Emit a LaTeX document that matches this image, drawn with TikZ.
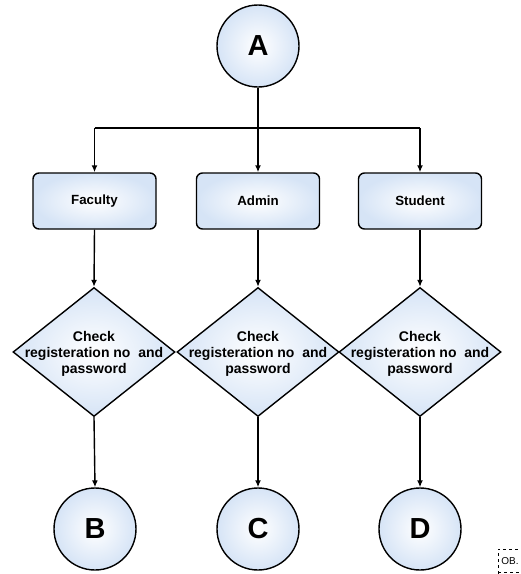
\documentclass[tikz,border=0pt]{standalone}
\usepackage{fontspec}
\setmainfont{Liberation Sans}
\usetikzlibrary{shapes.geometric,arrows.meta}
\definecolor{edgeblue}{RGB}{214,228,246}
\tikzset{
  x=1pt,y=-1pt,
  fillshade/.style={shade, inner color=white, outer color=edgeblue, draw=black, line width=1.4pt},
  endcircle/.style={circle, fillshade, minimum size=82pt, inner sep=0pt, font=\bfseries\fontsize{29}{30}\selectfont},
  rolebox/.style={rectangle, rounded corners=6pt, fillshade, minimum width=123pt, minimum height=56pt, inner sep=0pt, font=\bfseries\fontsize{13.3}{14}\selectfont},
  checkbox/.style={diamond, fillshade, minimum width=162pt, minimum height=129pt, inner sep=0pt, aspect=1.256},
  checktext/.style={align=center, inner sep=0pt, font=\bfseries\fontsize{14}{16}\selectfont},
  conn/.style={line width=1.4pt, -{Latex[length=7pt,width=6pt]}},
}
\begin{document}
\begin{tikzpicture}
\useasboundingbox (0,0) rectangle (521,574);
\fill[white] (0,0) rectangle (521,574);
\node[endcircle] (A) at (258,46) {A};
\node[rolebox] (fac) at (94.5,201) {Faculty};
\node[rolebox] (adm) at (258,201) {Admin};
\node[rolebox] (stu) at (420,201) {Student};
\node[checkbox] (c1) at (94,352) {};
\node[checkbox] (c2) at (258,352) {};
\node[checkbox] (c3) at (420,352) {};
\node[checktext] (c1t) at (94,354) {Check\\registeration no\ \ and\\password};
\node[checktext] (c2t) at (258,354) {Check\\registeration no\ \ and\\password};
\node[checktext] (c3t) at (420,354) {Check\\registeration no\ \ and\\password};
\node[endcircle] (B) at (95,529) {B};
\node[endcircle] (C) at (258,529) {C};
\node[endcircle] (D) at (420,529) {D};
\coordinate (jl) at (94.5,128);
\coordinate (jm) at (258,128);
\coordinate (jr) at (420,128);
\draw[line width=1.4pt] (A.south) -- (jm);
\draw[line width=1.4pt] (jl) -- (jr);
\draw[conn] (jl) -- (fac.north);
\draw[conn] (jm) -- (adm.north);
\draw[conn] (jr) -- (stu.north);
\draw[conn] (fac.south) -- (c1.north);
\draw[conn] (adm.south) -- (c2.north);
\draw[conn] (stu.south) -- (c3.north);
\draw[conn] (c1.south) -- (B.north);
\draw[conn] (c2.south) -- (C.north);
\draw[conn] (c3.south) -- (D.north);
\node[font=\fontsize{10}{11}\selectfont, inner sep=0pt] (ob) at (510,561) {OB.};
\draw[dashed, line width=0.6pt] (498,574) -- (498,549) -- (521,549);
\draw[dashed, line width=0.6pt] (498,572) -- (521,572);
\end{tikzpicture}
\end{document}
